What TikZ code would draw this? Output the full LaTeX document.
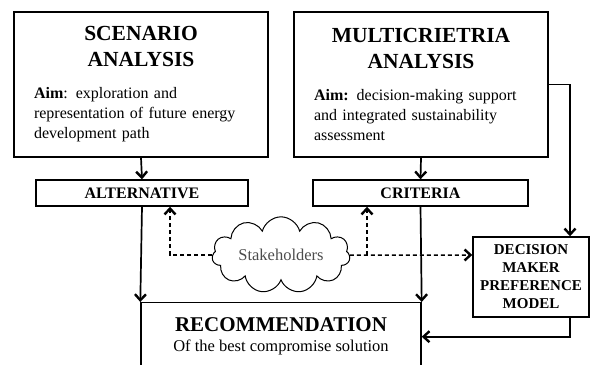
\documentclass[tikz,border=0pt]{standalone}
\usepackage{fontspec}
\setmainfont{Liberation Serif}
\usetikzlibrary{arrows.meta,shapes.symbols}

\tikzset{
  bigbox/.style={draw, line width=1.4pt, text width=214pt, inner xsep=20pt,
    inner ysep=0pt, minimum height=145pt, font=\fontsize{16}{20}\selectfont},
  smallbox/.style={draw, line width=1.4pt, minimum height=26pt, inner sep=0pt,
    font=\fontsize{16}{18}\selectfont\bfseries},
  arr/.style={line width=1.7pt, -{Straight Barb[length=6pt,width=11pt,line width=2.4pt]}},
  dasharr/.style={arr, line width=1.5pt, dash pattern=on 4pt off 3pt},
}

\begin{document}
\begin{tikzpicture}[x=1pt, y=-1pt]
		%%%%% START %%%%%
		\useasboundingbox (0,0) rectangle (591,364);
		
		\node[bigbox] (scen) at (141,84.5) {{\centering\fontsize{21.5}{26}\selectfont\bfseries SCENARIO\\ANALYSIS\par}\vspace{12pt}\raggedright
			\textbf{Aim}: exploration and\\representation of future energy\\development path};
		\node[bigbox] (multi) at (421,84.5) {{\centering\fontsize{21.5}{26}\selectfont\bfseries MULTICRIETRIA\\ANALYSIS\par}\vspace{12pt}\raggedright
			\textbf{Aim:} decision-making support\\and integrated sustainability\\assessment};
		
		\node[smallbox, minimum width=212pt] (alt) at (142,193) {ALTERNATIVE};
		\node[smallbox, minimum width=215pt] (crit) at (420.5,193) {CRITERIA};
		
		\node[draw, line width=1.4pt, minimum width=280pt, minimum height=68pt, anchor=north, align=center,
			font=\fontsize{16.5}{20}\selectfont] (rec) at (281,302)
			{{\fontsize{21}{24}\selectfont\bfseries RECOMMENDATION}\\[0pt]Of the best compromise solution};
		
		\node[draw, line width=1.4pt, minimum width=116pt, minimum height=80pt, inner sep=1pt, align=center,
			font=\fontsize{15}{18}\selectfont\bfseries] (dm) at (531,277) {DECISION\\MAKER\\PREFERENCE\\MODEL};
		
		\node[cloud, draw, cloud puffs=11, aspect=2.3, minimum width=138pt, minimum height=60pt, inner sep=0pt,
			line width=1pt, text=black!70, font=\fontsize{16.5}{18}\selectfont] (stake) at (281,255) {Stakeholders};
		
		\draw[arr] (scen.south) -- (alt.north);
		\draw[arr] (multi.south) -- (crit.north);
		\draw[arr] (alt.south) -- (rec.north west);
		\draw[arr] (crit.south) -- (rec.north east);
		
		\coordinate (rail) at (570,0);
		\draw[arr] (multi.east) -| (rail |- dm.north);
		\draw[arr] (rail |- dm.south) |- (rec.east);
		
		\coordinate (split) at (367,255);
		\draw[dasharr] (stake.west) -| ([xshift=28pt]alt.south);
		\draw[dasharr] (stake.east) -- (split -| dm.west);
		\draw[dasharr] (split) -- (split |- crit.south);
		
		%%%%% END %%%%%
	\end{tikzpicture}
\end{document}
